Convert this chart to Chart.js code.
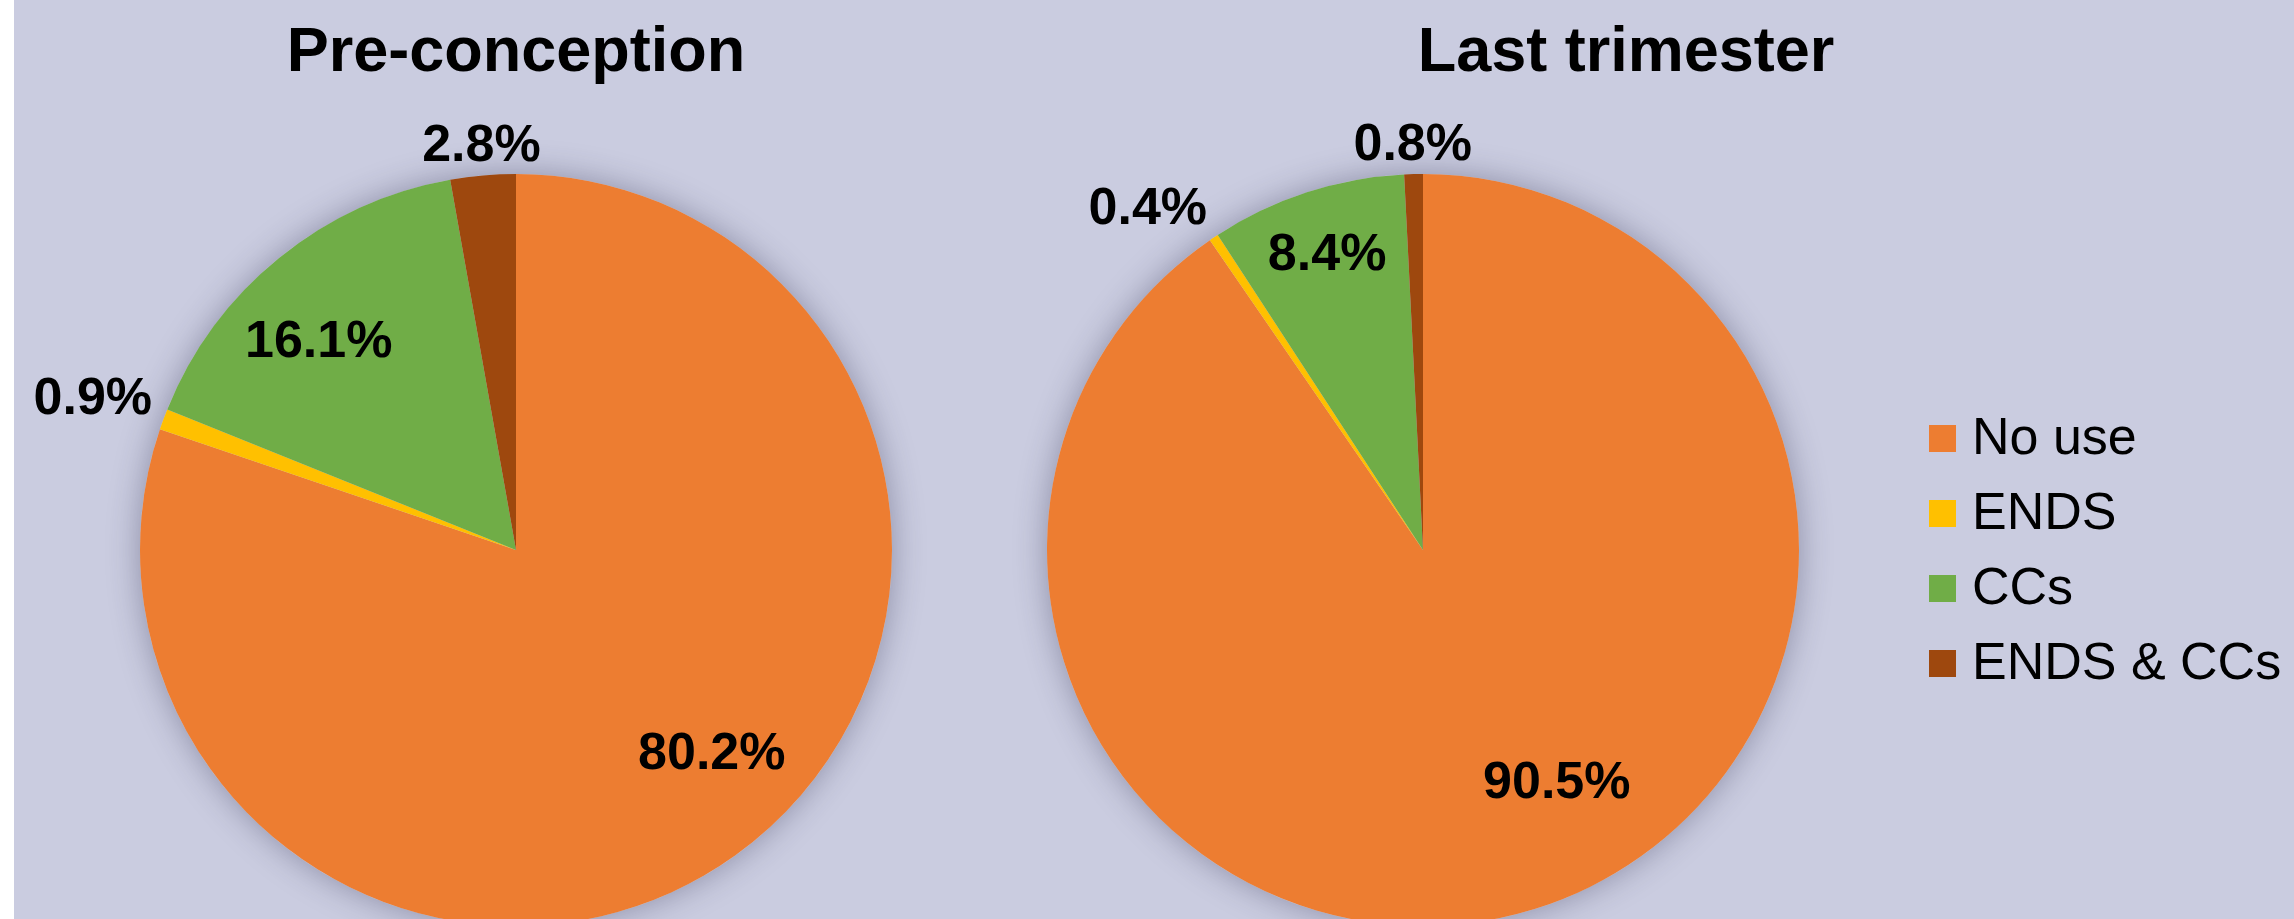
<!DOCTYPE html>
<html>
<head>
<meta charset="utf-8">
<title>Pre-conception / Last trimester</title>
<script src="https://cdn.jsdelivr.net/npm/chart.js@4.4.1/dist/chart.umd.min.js"></script>
<style>
  html, body { margin: 0; padding: 0; background: #ffffff; }
  #frame { position: absolute; left: 14px; top: 0; width: 2280px; height: 919px; background: #CACCE0; overflow: hidden; }
  #preChart { position: absolute; left: 0; top: 0; }
  #lastChart { position: absolute; left: 958px; top: 0; }
  #legend { position: absolute; left: 1915px; top: 401px; font-family: "Liberation Sans", Arial, sans-serif; font-size: 52px; color: #000; }
  .item { height: 75px; display: flex; align-items: center; }
  .box { width: 27px; height: 27px; margin-right: 16px; flex: none; }
  .item span { position: relative; top: -3px; white-space: nowrap; }
</style>
</head>
<body>
<div id="frame">
  <canvas id="preChart" width="1004" height="940"></canvas>
  <canvas id="lastChart" width="1308" height="940"></canvas>
  <div id="legend"></div>
</div>
<script>
// categorias (same for both pies)
const categories = ["No use", "ENDS", "CCs", "ENDS & CCs"];
const preConception = [80.2, 0.9, 16.1, 2.8];
const lastTrimester = [90.5, 0.4, 8.4, 0.8];
const chartTitles = ["Pre-conception", "Last trimester"];

const sliceColors = ["#ED7D31", "#FFC000", "#70AD47", "#9E480E"];
const BG = "#CACCE0";
const FONT = '"Liberation Sans", Arial, sans-serif';

// soft shadow behind the whole pie (drawn once, so slices don't shade each other)
const pieShadow = {
    id: "pieShadow",
    beforeDatasetsDraw(chart) {
        const arc = chart.getDatasetMeta(0).data[0];
        if (!arc) return;
        const ctx = chart.ctx;
        ctx.save();
        ctx.shadowColor = "rgba(40, 40, 70, 0.38)";
        ctx.shadowBlur = 32;
        ctx.fillStyle = BG;
        ctx.beginPath();
        ctx.arc(arc.x, arc.y, arc.outerRadius, 0, Math.PI * 2);
        ctx.fill();
        ctx.restore();
    }
};

// title centred over the whole canvas, not just the padded area
const fullWidthTitle = {
    id: "fullWidthTitle",
    afterLayout(chart) {
        const t = chart.titleBlock;
        if (!t) return;
        t.left = 0;
        t.right = chart.width;
        t.width = chart.width;
    }
};

// percentage labels, placed from each slice's mid angle
const sliceLabels = {
    id: "sliceLabels",
    afterDatasetsDraw(chart, args, opts) {
        const ctx = chart.ctx;
        const meta = chart.getDatasetMeta(0);
        const values = chart.data.datasets[0].data;
        const size = opts.size || 52;
        ctx.save();
        ctx.font = "bold " + size + "px " + FONT;
        ctx.fillStyle = "#000";
        ctx.textAlign = "center";
        ctx.textBaseline = "alphabetic";
        meta.data.forEach((arc, i) => {
            const nudge = (opts.nudge && opts.nudge[i]) || [0, 0.7];
            const mid = (arc.startAngle + arc.endAngle) / 2 + nudge[0] * Math.PI / 180;
            const dist = arc.outerRadius * nudge[1];
            const x = arc.x + Math.cos(mid) * dist;
            const y = arc.y + Math.sin(mid) * dist;
            ctx.fillText(values[i].toFixed(1) + "%", x, y + size * 0.358);
        });
        ctx.restore();
    }
};

function makePie(canvasId, title, values, padRight, nudge) {
    const ctx = document.getElementById(canvasId).getContext("2d");
    return new Chart(ctx, {
        type: "pie",
        data: {
            labels: categories,
            datasets: [{
                data: values,
                backgroundColor: sliceColors,
                borderWidth: 0
            }]
        },
        options: {
            responsive: false,
            animation: false,
            events: [],
            layout: { padding: { top: 0, bottom: 14, left: 0, right: padRight } },
            plugins: {
                legend: { display: false },
                tooltip: { enabled: false },
                title: {
                    display: true,
                    text: title,
                    color: "#000",
                    font: { family: FONT, size: 63, weight: "bold", lineHeight: 1.2 },
                    padding: { top: 16, bottom: 82.4 }
                },
                sliceLabels: { size: 52, nudge: nudge }
            }
        },
        plugins: [pieShadow, fullWidthTitle, sliceLabels]
    });
}

makePie("preChart", chartTitles[0], preConception, 0,
    [[-8.7, 0.745], [-0.3, 1.198], [-3.9, 0.77], [0.2, 1.089]]);
makePie("lastChart", chartTitles[1], lastTrimester, 406,
    [[-13, 0.706], [-4.8, 1.173], [0.2, 0.835], [0, 1.088]]);

// legend
const legend = document.getElementById("legend");
categories.forEach((name, i) => {
    const row = document.createElement("div");
    row.className = "item";
    row.innerHTML = `<div class="box" style="background:${sliceColors[i]}"></div><span>${name.replace("&", "&amp;")}</span>`;
    legend.appendChild(row);
});
</script>
</body>
</html>
